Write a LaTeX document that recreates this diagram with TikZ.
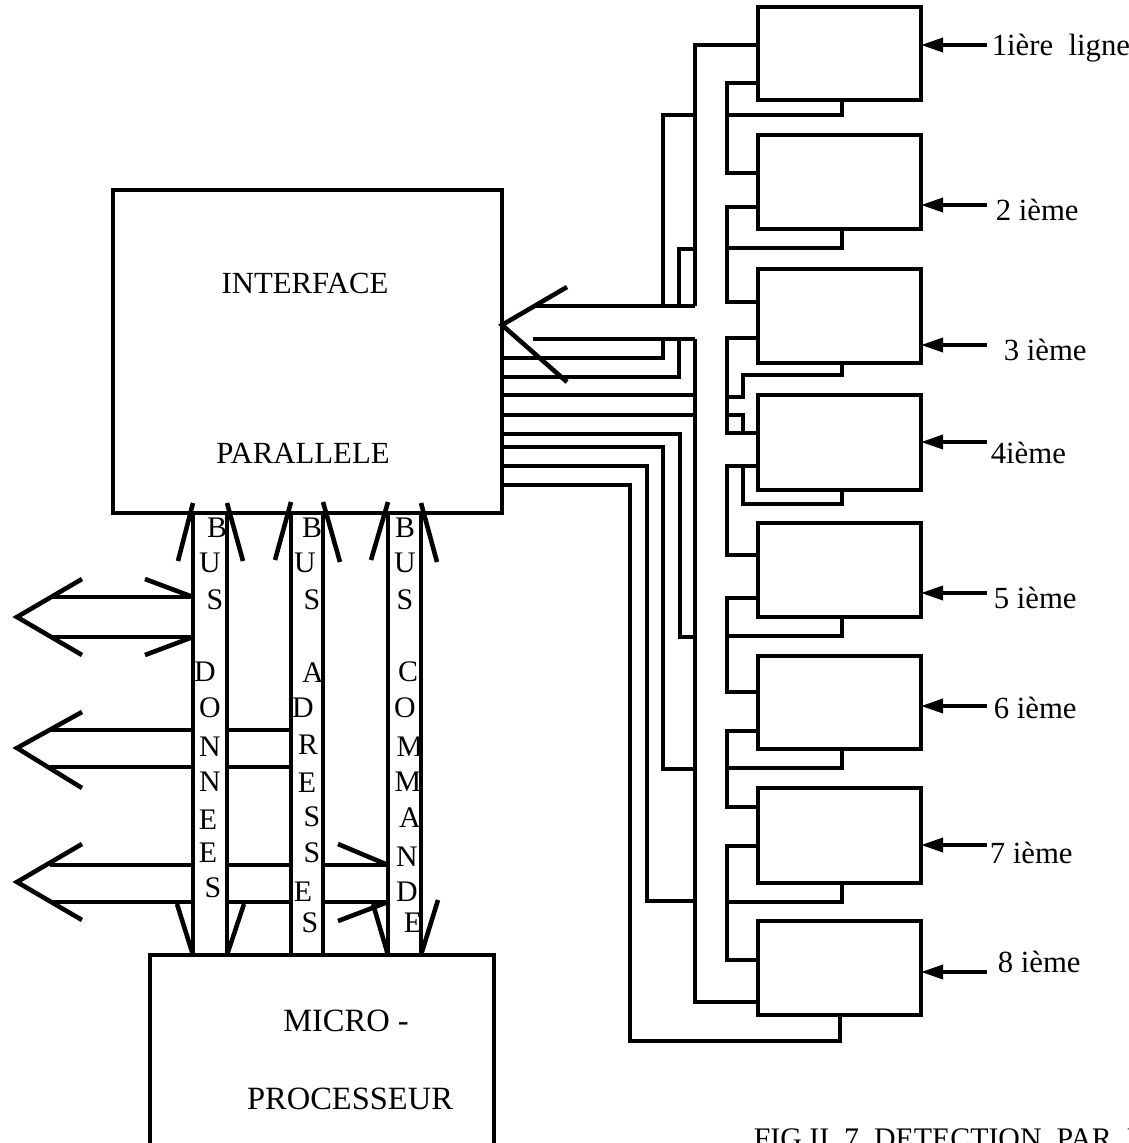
\documentclass[tikz,border=0pt]{standalone}
\usepackage{fontspec}
\setmainfont{Liberation Serif}
\usetikzlibrary{arrows.meta}
\begin{document}
\begin{tikzpicture}[x=0.02cm,y=-0.02cm, line width=2pt, line join=miter, line cap=butt,
  box/.style={draw, line width=2pt, inner sep=0pt, outer sep=0pt, anchor=north west},
  wire/.style={line width=2pt},
  arm/.style={line width=2.6pt},
  inarrow/.style={-{Triangle[length=0.44cm,width=0.28cm]}, line width=2pt},
  lbl/.style={anchor=base west, inner sep=0pt, font=\fontsize{17.5}{20}\selectfont},
  buslet/.style={inner sep=0pt, font=\fontsize{17}{20}\selectfont},
  big/.style={inner sep=0pt, font=\fontsize{17.5}{20}\selectfont},
  huge/.style={inner sep=0pt, font=\fontsize{18.5}{22}\selectfont}]
\useasboundingbox (0,0) rectangle (1129,1143);
\clip (0,0) rectangle (1129,1143);

% ---------- main blocks ----------
\node[box, minimum width=389*0.02cm, minimum height=323*0.02cm] (iface) at (113,190) {};
\node[big] (iftxt1) at (305,283) {INTERFACE};
\node[big] (iftxt2) at (303,453) {PARALLELE};

\node[box, minimum width=344*0.02cm, minimum height=240*0.02cm] (micro) at (150,955) {};
\node[huge] (mtxt1) at (346,1021) {MICRO -};
\node[huge] (mtxt2) at (350,1099) {PROCESSEUR};

% ---------- detector boxes ----------
\foreach \t/\h [count=\i] in {7/93,135/94,269/94,395/95,523/94,656/93,788/95,921/94}
  \node[box, minimum width=163*0.02cm, minimum height=\h*0.02cm] (b\i) at (758,\t) {};

% input arrows and labels
\foreach \y/\i in {45/1,205/2,345/3,442/4,593/5,706/6,845/7,972/8}
  \draw[inarrow] (987,\y) coordinate (in\i) -- (b\i.east |- in\i);
\node[lbl] (l1) at (990,55) {1ière\ \ ligne};
\node[lbl] (l2) at (994,220) {2 ième};
\node[lbl] (l3) at (1002,360) {3 ième};
\node[lbl] (l4) at (989,463) {4ième};
\node[lbl] (l5) at (992,608) {5 ième};
\node[lbl] (l6) at (992,718) {6 ième};
\node[lbl] (l7) at (988,863) {7 ième};
\node[lbl] (l8) at (996,972) {8 ième};

% ---------- buses ----------
\foreach \xa/\xb in {193/227,291/323,388/421}{
  \draw[wire] (\xa,513) -- (\xa,955);
  \draw[wire] (\xb,513) -- (\xb,955);
}
% top arrowheads (into interface)
\draw[arm] (193,503) -- (178,561);  \draw[arm] (227,503) -- (243,561);
\draw[arm] (291,502) -- (275,560);  \draw[arm] (323,502) -- (340,562);
\draw[arm] (388,502) -- (371,560);  \draw[arm] (421,503) -- (437,562);
% bottom arrowheads (into microprocessor)
\draw[arm] (177,904) -- (193,955);  \draw[arm] (244,904) -- (227,955);
\draw[arm] (373,904) -- (388,955);  \draw[arm] (438,900) -- (421,955);

% bus letters
\foreach \l/\x/\y [count=\i] in {B/217/528,U/210/563,S/215/600,D/205/672,O/210/708,N/210/747,N/210/782,E/208/820,E/208/853,S/213/888}
  \node[buslet] (dl\i) at (\x,\y) {\l};
\foreach \l/\x/\y [count=\i] in {B/312/528,U/305/563,S/312/600,A/313/673,D/303/708,R/308/745,E/307/783,S/312/817,S/312/853,E/303/892,S/310/923}
  \node[buslet] (al\i) at (\x,\y) {\l};
\foreach \l/\x/\y [count=\i] in {B/405/528,U/405/563,S/405/600,C/408/672,O/405/708,M/410/747,M/408/782,A/410/818,N/407/857,D/407/892,E/413/923}
  \node[buslet] (cl\i) at (\x,\y) {\l};

% ---------- left wide arrows ----------
% arrow 1 (data bus, both ways)
\draw[wire] (51,597) -- (193,597);
\draw[wire] (51,637) -- (193,637);
\draw[arm] (82,579) -- (17,617) -- (82,655);
\draw[arm] (145,579) -- (193,597);
\draw[arm] (145,655) -- (193,637);
% arrow 2 (address bus)
\draw[wire] (50,730) -- (193,730);  \draw[wire] (227,730) -- (291,730);
\draw[wire] (50,767) -- (193,767);  \draw[wire] (227,767) -- (291,767);
\draw[arm] (82,712) -- (17,748) -- (82,788);
% arrow 3 (command bus)
\draw[wire] (50,865) -- (193,865);  \draw[wire] (227,865) -- (291,865);  \draw[wire] (323,865) -- (388,865);
\draw[wire] (50,902) -- (193,902);  \draw[wire] (227,902) -- (291,902);  \draw[wire] (323,902) -- (388,902);
\draw[arm] (82,844) -- (17,882) -- (82,920);
\draw[arm] (338,844) -- (388,865);
\draw[arm] (338,921) -- (388,902);

% ---------- wide arrow into interface ----------
\draw[wire] (535,306) -- (695,306);
\draw[wire] (533,339) -- (695,339);
\draw[arm] (567,287) -- (502,325) -- (567,382);

% ---------- left wiring column ----------
\draw[wire] (b1.west |- 0,45) -- (695,45) -- (695,306);
\draw[wire] (695,115) -- (663,115) -- (663,306);
\draw[wire] (695,249) -- (679,249) -- (679,306);
\draw[wire] (iface.east |- 0,358) -- (663,358) -- (663,339);
\draw[wire] (iface.east |- 0,377) -- (679,377) -- (679,339);
\draw[wire] (695,339) -- (695,1002) -- (b8.west |- 0,1002);
\draw[wire] (iface.east |- 0,395) -- (695,395);
\draw[wire] (iface.east |- 0,415) -- (695,415);
\draw[wire] (iface.east |- 0,434) -- (680,434) -- (680,637) -- (695,637);
\draw[wire] (iface.east |- 0,447) -- (663,447) -- (663,769) -- (695,769);
\draw[wire] (iface.east |- 0,466) -- (647,466) -- (647,901) -- (695,901);
\draw[wire] (iface.east |- 0,485) -- (630,485) -- (630,1041) -- (840,1041) -- (b8.south -| 840,0);

% ---------- right wiring column ----------
% box 1
\draw[wire] (b1.west |- 0,83) -- (727,83) -- (727,173) -- (b2.west |- 0,173);
\draw[wire] (b1.south -| 842,0) -- (842,115) -- (727,115);
% box 2
\draw[wire] (b2.west |- 0,207) -- (727,207) -- (727,302) -- (b3.west |- 0,302);
\draw[wire] (b2.south -| 842,0) -- (842,248) -- (727,248);
% box 3
\draw[wire] (b3.west |- 0,338) -- (727,338) -- (727,433) -- (b4.west |- 0,433);
\draw[wire] (b3.south -| 842,0) -- (842,375) -- (743,375) -- (743,397) -- (727,397);
\draw[wire] (727,415) -- (743,415) -- (743,433);
% box 4
\draw[wire] (b4.west |- 0,466) -- (727,466) -- (727,555) -- (b5.west |- 0,555);
\draw[wire] (b4.south -| 842,0) -- (842,504) -- (743,504) -- (743,466);
% box 5
\draw[wire] (b5.west |- 0,598) -- (727,598) -- (727,692) -- (b6.west |- 0,692);
\draw[wire] (b5.south -| 842,0) -- (842,636) -- (727,636);
% box 6
\draw[wire] (b6.west |- 0,731) -- (727,731) -- (727,807) -- (b7.west |- 0,807);
\draw[wire] (b6.south -| 842,0) -- (842,768) -- (727,768);
% box 7
\draw[wire] (b7.west |- 0,846) -- (727,846) -- (727,960) -- (b8.west |- 0,960);
\draw[wire] (b7.south -| 842,0) -- (842,902) -- (727,902);

% ---------- caption (cut by the lower edge, as in the scan) ----------
\node[anchor=base west, inner sep=0pt, font=\fontsize{17}{20}\selectfont] (cap) at (752,1148) {FIG.II.\ 7\ \ DETECTION\ \ PAR\ \ B};
\end{tikzpicture}
\end{document}
